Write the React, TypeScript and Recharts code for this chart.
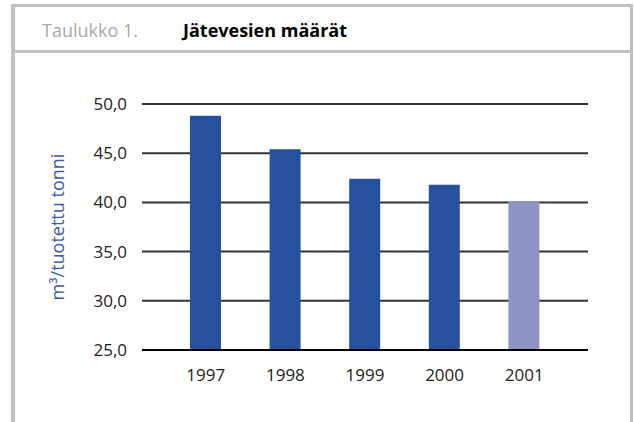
import React from 'react';
import { BarChart, Bar, XAxis, YAxis, CartesianGrid, Cell } from 'recharts';

const years = ['1997', '1998', '1999', '2000', '2001'];
const values = [48.8, 45.4, 42.4, 41.8, 40.1];
const barColors = ['#26519c', '#26519c', '#26519c', '#26519c', '#8d94c3'];
const yTicks = [25, 30, 35, 40, 45, 50];

const data = years.map((y, i) => ({ year: y, value: values[i] }));

const FONT = '"Open Sans", "Noto Sans", sans-serif';

export default function App() {
  return (
    <div style={{ position: 'absolute', left: 0, top: 0, width: 634, height: 422, background: '#fff', fontFamily: FONT, overflow: 'hidden' }}>
      {/* frame */}
      <div style={{ position: 'absolute', left: 11, top: 4, width: 622, height: 3, background: '#c0c0c0' }} />
      <div style={{ position: 'absolute', left: 11, top: 50, width: 622, height: 3, background: '#c0c0c0' }} />
      <div style={{ position: 'absolute', left: 11, top: 4, width: 4, height: 418, background: '#c0c0c0' }} />
      <div style={{ position: 'absolute', left: 630, top: 4, width: 3, height: 418, background: '#c0c0c0' }} />
      <div style={{ position: 'absolute', left: 42, top: 16, fontSize: 18, color: '#aaaaaa', lineHeight: '28px', whiteSpace: 'nowrap' }}>Taulukko 1.</div>
      <div style={{ position: 'absolute', left: 183, top: 16, fontSize: 18, fontWeight: 700, color: '#000', lineHeight: '28px', whiteSpace: 'nowrap' }}>Jätevesien määrät</div>
      <div style={{ position: 'absolute', left: 0, top: 0 }}>
        <BarChart width={634} height={422} data={data} margin={{ top: 104, right: 46, bottom: 42, left: 0 }}>
          <CartesianGrid vertical={false} stroke="#333333" strokeWidth={2} />
          <XAxis
            dataKey="year"
            axisLine={{ stroke: '#000', strokeWidth: 2 }}
            tickLine={false}
            height={30}
            padding={{ left: 24, right: 24 }}
            tick={{ fill: '#222', fontSize: 17, fontFamily: FONT }}
            tickMargin={13}
          />
          <YAxis
            domain={[25, 50]}
            ticks={yTicks}
            interval={0}
            width={142}
            axisLine={false}
            tickLine={false}
            tickSize={0}
            tickMargin={15}
            tickFormatter={(v: number) => v.toFixed(1).replace('.', ',')}
            tick={{ fill: '#222', fontSize: 17, fontFamily: FONT }}
            label={{
              value: 'm³/tuotettu tonni',
              angle: -90,
              position: 'insideLeft',
              offset: 58,
              style: { textAnchor: 'middle', fill: '#3b5ba5', fontSize: 18, fontFamily: FONT },
            }}
          />
          <Bar dataKey="value" barSize={31} isAnimationActive={false}>
            {data.map((d, i) => (
              <Cell key={d.year} fill={barColors[i]} />
            ))}
          </Bar>
        </BarChart>
      </div>
    </div>
  );
}
